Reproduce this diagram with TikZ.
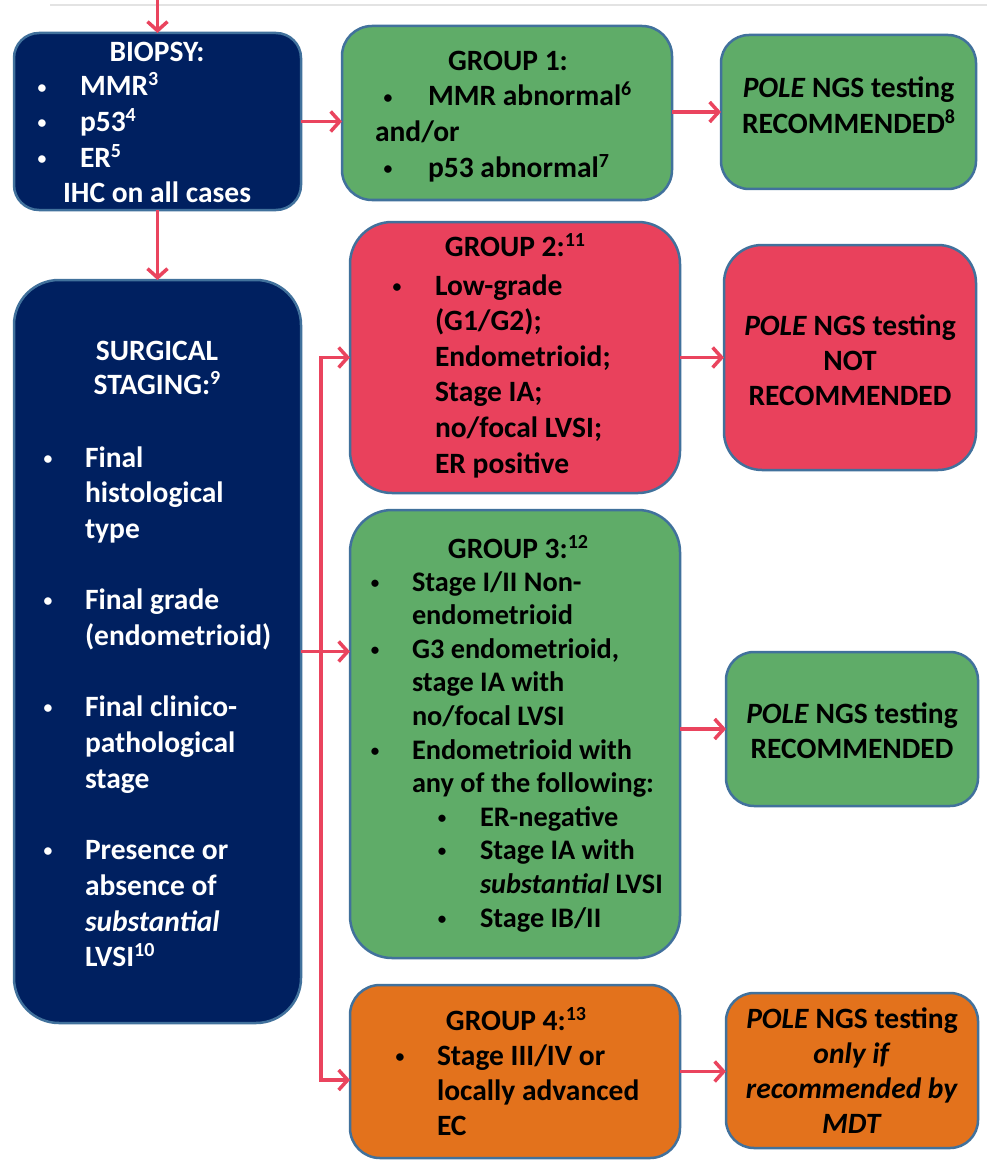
\documentclass[tikz,border=0pt]{standalone}
\usepackage{fontspec}
\setmainfont{Carlito}
\usetikzlibrary{arrows.meta}
\definecolor{navy}{RGB}{0,32,96}
\definecolor{edge}{RGB}{65,113,156}
\definecolor{grn}{RGB}{95,172,104}
\definecolor{rd}{RGB}{233,65,92}
\definecolor{org}{RGB}{227,114,28}
\definecolor{arr}{RGB}{234,68,94}
\newcommand\bu[1]{\llap{\makebox[0pt]{\raisebox{0.1em}{\scalebox{0.6}{\textbullet}}}\hspace{#1pt}}}
\newcommand\st{\rule{0pt}{30pt}}
\newcommand\sps[1]{\raisebox{10pt}{\fontsize{20}{20}\selectfont #1}}
\begin{document}
\begin{tikzpicture}[x=1pt,y=-1pt,
  box/.style={draw=edge, line width=2.5pt, inner sep=0pt, outer sep=0pt},
  con/.style={draw=arr, line width=3.5pt, -{Straight Barb[length=9pt,width=20pt]}},
  tx/.style={inner sep=0pt, outer sep=0pt, font=\bfseries\fontsize{29.5}{35.6}\selectfont},
  tt/.style={inner sep=0pt, outer sep=0pt, font=\bfseries\fontsize{28.3}{33.6}\selectfont},
]
\fill[white] (0,0) rectangle (987,1161);
\path[use as bounding box] (0,0) rectangle (987,1161);
\draw[gray!22, line width=1.5pt] (50,5) -- (987,5);

% boxes
\node[box, fill=navy, rounded corners=25pt, minimum width=287pt, minimum height=177pt] (b) at (157.5,121.5) {};
\node[box, fill=grn, rounded corners=30pt, minimum width=330pt, minimum height=174pt] (g1) at (507,113) {};
\node[box, fill=grn, rounded corners=28pt, minimum width=255pt, minimum height=154pt] (p1) at (848.5,112) {};
\node[box, fill=navy, rounded corners=45pt, minimum width=287pt, minimum height=743pt] (s) at (157.5,651.5) {};
\node[box, fill=rd, rounded corners=42pt, minimum width=330pt, minimum height=271pt] (g2) at (515,357.5) {};
\node[box, fill=rd, rounded corners=38pt, minimum width=252pt, minimum height=225pt] (p2) at (850,357.5) {};
\node[box, fill=grn, rounded corners=42pt, minimum width=330pt, minimum height=448pt] (g3) at (515,734) {};
\node[box, fill=grn, rounded corners=28pt, minimum width=252pt, minimum height=154pt] (p3) at (852,729) {};
\node[box, fill=org, rounded corners=30pt, minimum width=330pt, minimum height=173pt] (g4) at (515,1071.5) {};
\node[box, fill=org, rounded corners=28pt, minimum width=252pt, minimum height=155pt] (p4) at (852,1070.5) {};

% biopsy text
\node[tx, text=white, anchor=base] (bt) at (157,62) {BIOPSY:};
\node[tx, text=white, anchor=north west, align=left] (bl) at (80,66)
  {\st\bu{38}MMR\sps{3}\\\bu{38}p53\sps{4}\\\bu{38}ER\sps{5}};
\node[tx, text=white, anchor=base] (bi) at (157,203) {IHC on all cases};

% group 1
\node[tx, anchor=base] (g1t) at (508,71) {GROUP 1:};
\node[tx, anchor=north west, align=left] (g1l) at (428,76)
  {\st\bu{40}MMR abnormal\sps{6}\\\makebox[0pt][l]{\hspace*{-53pt}and/or}\\\bu{40}p53 abnormal\sps{7}};
\node[tx, anchor=north, align=center] (p1t) at (848.5,68)
  {\st\textit{POLE} NGS testing\\RECOMMENDED\sps{8}};

% surgical
\node[tx, text=white, anchor=north, align=center, font=\bfseries\fontsize{29.5}{34.5}\selectfont] (st) at (157,330)
  {\st SURGICAL\\STAGING:\sps{9}};
\node[tx, text=white, anchor=north west, align=left, font=\bfseries\fontsize{29.5}{35.7}\selectfont] (sl) at (85,437)
  {\st\bu{37}Final\\histological\\type\\[35.7pt]\bu{37}Final grade\\(endometrioid)\\[35.7pt]\bu{37}Final clinico-\\pathological\\stage\\[35.7pt]\bu{37}Presence or\\absence of\\\textit{substantial}\\LVSI\sps{10}};

% group 2
\node[tx, anchor=base] (g2t) at (515,256) {GROUP 2:\sps{11}};
\node[tx, anchor=north west, align=left] (g2l) at (435,265)
  {\st\bu{38}Low-grade\\(G1/G2);\\Endometrioid;\\Stage IA;\\no/focal LVSI;\\ER positive};
\node[tx, anchor=north, align=center, font=\bfseries\fontsize{29.5}{35}\selectfont] (p2t) at (850,305)
  {\st\textit{POLE} NGS testing\\NOT\\RECOMMENDED};

% group 3
\node[tx, anchor=base] (g3t) at (518,558) {GROUP 3:\sps{12}};
\node[tt, anchor=north west, align=left] (g3l) at (412,561)
  {\st\bu{37}Stage I/II Non-\\endometrioid\\\bu{37}G3 endometrioid,\\stage IA with\\no/focal LVSI\\\bu{37}Endometrioid with\\any of the following:\\\hspace*{68pt}\bu{38}ER-negative\\\hspace*{68pt}\bu{38}Stage IA with\\\hspace*{68pt}\textit{substantial} LVSI\\\hspace*{68pt}\bu{38}Stage IB/II};
\node[tx, anchor=north, align=center] (p3t) at (852,693)
  {\st\textit{POLE} NGS testing\\RECOMMENDED};

% group 4
\node[tx, anchor=base] (g4t) at (516,1030) {GROUP 4:\sps{13}};
\node[tx, anchor=north west, align=left, font=\bfseries\fontsize{29.5}{35}\selectfont] (g4l) at (437,1035)
  {\st\bu{37}Stage III/IV or\\locally advanced\\EC};
\node[tx, anchor=north, align=center, font=\bfseries\fontsize{29.5}{35}\selectfont] (p4t) at (852,998)
  {\st\textit{POLE} NGS testing\\\textit{only if}\\\textit{recommended by}\\\textit{MDT}};

% connectors
\coordinate (top) at (157.5,0);
\coordinate (j) at (321,651.5);
\draw[con] (top) -- (b.north);
\draw[con] (b.south) -- (s.north);
\draw[con] (b.east) -- (b.east -| g1.west);
\draw[con] (g1.east |- p1.west) -- (p1.west);
\draw[con] (g2.east) -- (p2.west);
\draw[con] (p3.west -| g3.east) -- (p3.west);
\draw[con] (g4.east) -- (g4.east -| p4.west);
\draw[con] (s.east) -- (s.east -| g3.west);
\draw[con] (j) |- (g2.west);
\draw[con] (j) |- ([yshift=-8.5pt]g4.west);
\end{tikzpicture}
\end{document}
